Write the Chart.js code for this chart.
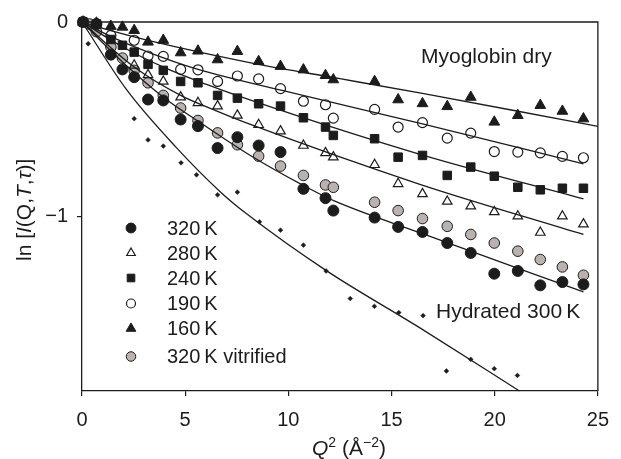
<!DOCTYPE html>
<html>
<head>
<meta charset="utf-8">
<script src="https://cdn.jsdelivr.net/npm/chart.js@4.4.1/dist/chart.umd.min.js"></script>
<style>
  html, body { margin: 0; padding: 0; background: #fff; }
</style>
</head>
<body>
<canvas id="chart" width="621" height="459"></canvas>
<script>
// Q^2 grid shared by the dry myoglobin runs (A^-2)
const qDry = [0.05, 0.35, 0.7, 1.4, 1.96, 2.53, 3.2, 3.94, 4.78, 5.62, 6.57, 7.53, 8.56, 9.62,
  10.73, 11.8, 12.18, 14.18, 15.32, 16.5, 17.7, 18.84, 19.98, 21.12, 22.21, 23.28, 24.3];

const k320 = [0, null, -0.01, -0.168, -0.244, -0.284, -0.399, -0.404, -0.502, -0.536, -0.649, -0.593, -0.636, -0.670,
  -0.859, -0.907, -0.971, -1.007, -1.055, -1.081, -1.138, -1.189, -1.296, -1.282, -1.356, -1.339, -1.351];
const k280 = [0, null, -0.015, null, null, -0.223, -0.272, -0.306, -0.387, -0.416, -0.433, -0.481, -0.529, -0.562,
  -0.636, -0.674, -0.696, -0.735, -0.833, -0.885, -0.924, -0.948, -0.978, -1.0, -1.084, -1.0, -1.041];
const k240 = [0, null, -0.01, -0.09, -0.12, -0.155, -0.218, -0.249, -0.306, -0.313, -0.378, -0.392, -0.421, -0.433,
  -0.493, -0.541, -0.584, -0.601, -0.696, -0.687, -0.79, -0.747, -0.794, -0.851, -0.864, -0.856, -0.856];
const k190 = [0, null, -0.01, -0.069, null, -0.094, -0.175, -0.177, -0.244, -0.246, -0.306, -0.278, -0.293, -0.343,
  -0.408, -0.426, -0.495, -0.45, -0.541, -0.518, -0.598, -0.572, -0.667, -0.67, -0.674, -0.692, -0.699];
const k160 = [0, null, -0.005, -0.022, -0.026, -0.043, -0.103, -0.094, -0.158, -0.149, -0.194, -0.151, -0.203, -0.228,
  -0.246, -0.275, -0.297, -0.306, -0.4, -0.42, -0.435, -0.387, -0.515, -0.481, -0.429, -0.459, -0.498];
const k320vit = [null, -0.01, -0.05, -0.129, -0.186, -0.249, -0.313, -0.378, -0.443, -0.507, -0.571, -0.632, -0.691, -0.742,
  -0.79, -0.839, -0.851, -0.928, -0.971, -1.012, -1.052, -1.094, -1.138, -1.18, -1.223, -1.261, -1.304];

// hydrated sample, 300 K
const qHyd = [0.3, 2.53, 3.2, 3.94, 4.8, 5.55, 6.57, 7.53, 8.6, 9.62, 10.73, 11.83, 13.0, 14.17, 15.35, 16.53,
  17.66, 18.84, 19.98, 21.1];
const hyd300 = [-0.112, -0.498, -0.607, -0.639, -0.725, -0.787, -0.89, -0.876, -1.029, -1.072, -1.149, -1.282,
  -1.424, -1.464, -1.496, -1.512, -1.797, -1.737, -1.785, -1.82];

// fitted curves
const fitQ160 = [0, 1.4, 3.2, 8.3, 12.5, 16.5, 21, 25];
const fit160 = [0, -0.045, -0.095, -0.213, -0.292, -0.368, -0.457, -0.538];
const fitQ190 = [0, 1.4, 3.2, 5.5, 10, 16.5, 24.3];
const fit190 = [0, -0.075, -0.155, -0.24, -0.36, -0.525, -0.73];
const fitQ240 = [0, 2, 4, 6, 8.1, 16.3, 24.3];
const fit240 = [0, -0.13, -0.235, -0.32, -0.4, -0.679, -0.911];
const fitQ280 = [0, 2.53, 4.78, 6.57, 8.1, 16.3, 24.3];
const fit280 = [0, -0.232, -0.378, -0.46, -0.525, -0.833, -1.094];
const fitQ320 = [0, 1.96, 3.94, 5.62, 8.2, 10.7, 12.2, 16.5, 24.3];
const fit320 = [0, -0.206, -0.387, -0.51, -0.69, -0.84, -0.92, -1.09, -1.39];
const fitQHyd = [0, 2.17, 4.54, 6.76, 7.96, 11.84, 16.3, 21.2];
const fitHyd = [0, -0.35, -0.643, -0.88, -0.986, -1.28, -1.57, -1.9];

const xTicks = [0, 5, 10, 15, 20, 25];
const yTicks = [0, -1];

const seriesNames = ['320\u2009K', '280\u2009K', '240\u2009K', '190\u2009K', '160\u2009K', '320\u2009K vitrified'];

const INK = '#1c1c1c';
const GREY = '#b9b2af';
const FONT = '"Liberation Sans", Arial, Helvetica, sans-serif';

function pts(xs, ys) {
  return xs.map((x, i) => ({ x: x, y: ys[i] })).filter(p => p.y !== null);
}

const markerStyles = [
  { pointStyle: 'circle', pointRadius: 5.5, pointBackgroundColor: INK, pointBorderColor: INK, pointBorderWidth: 1 },
  { pointStyle: 'triangle', pointRadius: 5.5, pointBackgroundColor: 'rgba(0,0,0,0)', pointBorderColor: INK, pointBorderWidth: 1.2 },
  { pointStyle: 'rect', pointRadius: 6, pointBackgroundColor: INK, pointBorderColor: INK, pointBorderWidth: 1 },
  { pointStyle: 'circle', pointRadius: 5, pointBackgroundColor: 'rgba(0,0,0,0)', pointBorderColor: INK, pointBorderWidth: 1.2 },
  { pointStyle: 'triangle', pointRadius: 6.2, pointBackgroundColor: INK, pointBorderColor: INK, pointBorderWidth: 1 },
  { pointStyle: 'circle', pointRadius: 5.3, pointBackgroundColor: GREY, pointBorderColor: INK, pointBorderWidth: 1 }
];

const scatterData = [k320, k280, k240, k190, k160, k320vit];
const datasets = [];

const fits = [[fitQ160, fit160], [fitQ190, fit190], [fitQ240, fit240], [fitQ280, fit280], [fitQ320, fit320], [fitQHyd, fitHyd]];
fits.forEach(f => {
  datasets.push({
    type: 'line', data: pts(f[0], f[1]), showLine: true, borderColor: INK, borderWidth: 1.3,
    pointRadius: 0, cubicInterpolationMode: 'monotone', fill: false, clip: false
  });
});

scatterData.forEach((arr, i) => {
  datasets.push(Object.assign({ label: seriesNames[i], data: pts(qDry, arr), showLine: false, clip: false }, markerStyles[i]));
});

datasets.push({
  label: 'Hydrated 300\u2009K', data: pts(qHyd, hyd300), showLine: false, clip: false,
  pointStyle: 'rectRot', pointRadius: 2.4, pointBackgroundColor: INK, pointBorderColor: INK, pointBorderWidth: 0.5
});

function drawMarker(ctx, style, r, x, y) {
  ctx.beginPath();
  if (style === 'circle') {
    ctx.arc(x, y, r, 0, Math.PI * 2);
  } else if (style === 'triangle') {
    ctx.moveTo(x, y - r);
    ctx.lineTo(x + r * 0.866, y + r * 0.5);
    ctx.lineTo(x - r * 0.866, y + r * 0.5);
    ctx.closePath();
  } else if (style === 'rect') {
    const s = r * Math.SQRT1_2;
    ctx.rect(x - s, y - s, 2 * s, 2 * s);
  }
  ctx.fill();
  ctx.stroke();
}

function drawRuns(ctx, runs, x, y) {
  let cx = x;
  runs.forEach(r => {
    ctx.font = r.font;
    ctx.fillText(r.t, cx, y - (r.rise || 0));
    cx += ctx.measureText(r.t).width;
  });
}

const decorations = {
  id: 'decorations',
  afterDraw(chart) {
    const ctx = chart.ctx;
    const a = chart.chartArea;
    ctx.save();
    // top and right frame
    ctx.strokeStyle = INK;
    ctx.lineWidth = 1.3;
    ctx.beginPath();
    ctx.moveTo(a.left, a.top);
    ctx.lineTo(a.right, a.top);
    ctx.lineTo(a.right, a.bottom);
    ctx.stroke();

    ctx.fillStyle = INK;
    ctx.textBaseline = 'alphabetic';
    ctx.textAlign = 'left';
    const reg = '21px ' + FONT;
    const ita = 'italic 21px ' + FONT;
    const sup = '14px ' + FONT;

    // annotations
    ctx.font = reg;
    ctx.fillText('Myoglobin dry', 421, 63);
    ctx.fillText('Hydrated 300\u2009K', 436, 318);

    // legend
    const rows = [228, 253, 278, 303.5, 328.5, 356.5];
    ctx.font = '20px ' + FONT;
    ctx.textBaseline = 'middle';
    seriesNames.forEach((name, i) => {
      const st = markerStyles[i];
      ctx.fillStyle = st.pointBackgroundColor;
      ctx.strokeStyle = st.pointBorderColor;
      ctx.lineWidth = st.pointBorderWidth;
      drawMarker(ctx, st.pointStyle, st.pointRadius * 0.9, 131, rows[i]);
      ctx.fillStyle = INK;
      ctx.fillText(name, 167, rows[i] + 1);
    });

    // axis titles
    ctx.textBaseline = 'alphabetic';
    drawRuns(ctx, [
      { t: 'Q', font: ita }, { t: '2', font: sup, rise: 8 }, { t: ' (\u00c5', font: reg },
      { t: '\u22122', font: sup, rise: 8 }, { t: ')', font: reg }
    ], 312, 455);

    ctx.translate(31, 261);
    ctx.rotate(-Math.PI / 2);
    drawRuns(ctx, [
      { t: 'ln [', font: reg }, { t: 'I', font: ita }, { t: '(Q,', font: reg }, { t: 'T', font: ita },
      { t: ',', font: reg }, { t: '\u03c4', font: ita }, { t: ')]', font: reg }
    ], 0, 0);
    ctx.restore();
  }
};

new Chart(document.getElementById('chart'), {
  type: 'scatter',
  data: { datasets: datasets },
  options: {
    responsive: false,
    animation: false,
    layout: { padding: { left: 0, top: 22, right: 12, bottom: 0 } },
    plugins: { legend: { display: false }, tooltip: { enabled: false } },
    scales: {
      x: {
        type: 'linear', min: 0, max: 25,
        afterBuildTicks: s => { s.ticks = xTicks.map(v => ({ value: v })); },
        afterFit: s => { s.height = 68; },
        grid: { drawOnChartArea: false, drawTicks: true, tickLength: 5, color: INK, lineWidth: 1.2 },
        border: { display: true, color: INK, width: 1.3 },
        ticks: { font: { family: FONT, size: 20 }, color: INK, padding: 12, maxRotation: 0 }
      },
      y: {
        type: 'linear', min: -1.9, max: 0,
        afterBuildTicks: s => { s.ticks = yTicks.map(v => ({ value: v })); },
        afterFit: s => { s.width = 82; },
        grid: { drawOnChartArea: false, drawTicks: true, tickLength: 5, color: INK, lineWidth: 1.2 },
        border: { display: true, color: INK, width: 1.3 },
        ticks: {
          font: { family: FONT, size: 20 }, color: INK, padding: 9,
          callback: v => v < 0 ? '\u2212' + Math.abs(v) : String(v)
        }
      }
    }
  },
  plugins: [decorations]
});
</script>
</body>
</html>
